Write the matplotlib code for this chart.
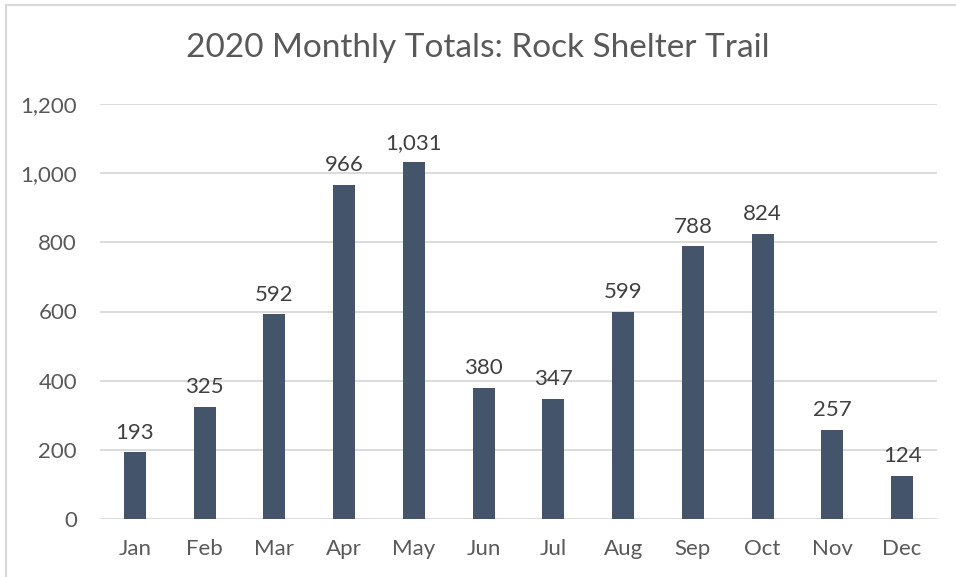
import matplotlib
matplotlib.use("Agg")
import matplotlib.pyplot as plt
from matplotlib.patches import Rectangle

months = ["Jan", "Feb", "Mar", "Apr", "May", "Jun", "Jul", "Aug", "Sep", "Oct", "Nov", "Dec"]
totals = [193, 325, 592, 966, 1031, 380, 347, 599, 788, 824, 257, 124]
yticks = [0, 200, 400, 600, 800, 1000, 1200]
title = "2020 Monthly Totals: Rock Shelter Trail"

plt.rcParams['font.family'] = ['Lato', 'DejaVu Sans']
W, H = 956, 577
fig = plt.figure(figsize=(W / 100, H / 100), dpi=100)
fig.patch.set_facecolor("white")

# outer border (top & left visible)
fig.add_artist(Rectangle((6 / W, -0.1), 1.2, 1 - 5 / H + 0.1, transform=fig.transFigure,
                         fill=False, edgecolor="#D9D9D9", linewidth=1.5))

left, right = 100 / W, 937 / W
bottom, top = 1 - 519 / H, 1 - 104 / H
ax = fig.add_axes([left, bottom, right - left, top - bottom])

x = list(range(len(months)))
ax.bar(x, totals, width=0.313, color="#44546A", zorder=3)
ax.set_xlim(-0.5, len(months) - 0.5)
ax.set_ylim(0, 1200)
ax.set_yticks(yticks)
ax.set_yticklabels([f"{v:,}" for v in yticks])
ax.set_xticks(x)
ax.set_xticklabels(months)
ax.tick_params(axis="both", length=0, colors="#595959", labelsize=16)
ax.tick_params(axis="y", pad=16.5)
ax.tick_params(axis="x", pad=14.5)
ax.grid(axis="y", color="#D9D9D9", linewidth=1.3, zorder=0)
for s in ax.spines.values():
    s.set_visible(False)

for xi, v in zip(x, totals):
    ax.annotate(f"{v:,}", (xi, v), xytext=(0, 7), textcoords="offset points",
                ha="center", va="bottom", fontsize=16, color="#404040")

fig.text(0.5, 1 - 48 / H, title, ha="center", va="center", fontsize=24, color="#595959")

fig.savefig("out.png", dpi=100, facecolor="white")
